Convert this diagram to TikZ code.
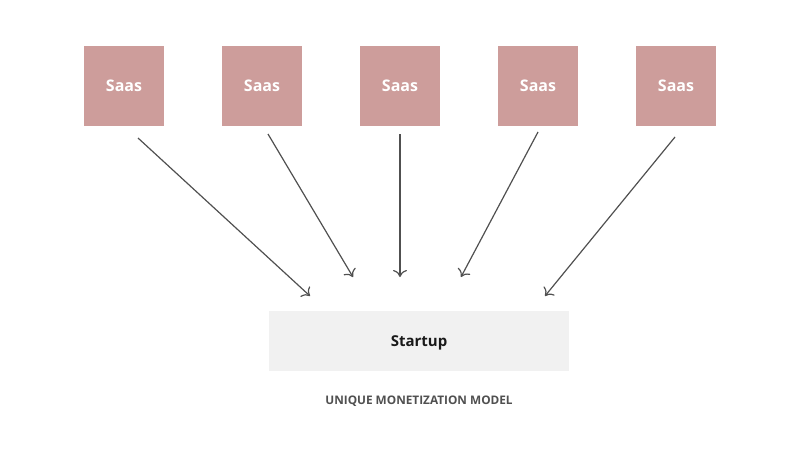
\documentclass[tikz,border=0pt]{standalone}
\usepackage{fontspec}
\setmainfont{Open Sans}
\usepackage{tikz}
\usetikzlibrary{positioning,arrows.meta}
\definecolor{saasrose}{RGB}{205,157,155}
\definecolor{startgray}{RGB}{241,241,241}
\definecolor{linegray}{RGB}{80,80,80}
\tikzset{
  saasbox/.style={rectangle, fill=saasrose, minimum width=80pt, minimum height=80pt, inner sep=0pt, outer sep=0pt, text height=10pt, text depth=0pt, text=white, font=\bfseries\fontsize{16}{19}\selectfont},
  startbox/.style={rectangle, fill=startgray, minimum width=300pt, minimum height=60pt, inner sep=0pt, outer sep=0pt, text height=10.7pt, text depth=0pt, text=black!90, font=\bfseries\fontsize{15}{18}\selectfont},
  caption/.style={text=linegray, font=\bfseries\fontsize{11.8}{14}\selectfont},
  feed/.style={-{To[length=7pt,width=14pt]}, linegray, line width=1.2pt},
}
\begin{document}
\begin{tikzpicture}[x=1pt, y=-1pt, node distance=58pt]
  \useasboundingbox (0,0) rectangle (800,450);
  \node[saasbox] (saas1) at (124,86) {Saas};
  \node[saasbox] (saas2) [right=of saas1] {Saas};
  \node[saasbox] (saas3) [right=of saas2] {Saas};
  \node[saasbox] (saas4) [right=of saas3] {Saas};
  \node[saasbox] (saas5) [right=of saas4] {Saas};
  \node[startbox] (startup) at (419,341) {Startup};
  \node[caption] (model) at (419,401.5) {UNIQUE MONETIZATION MODEL};

  % arrow ends
  \coordinate (from1) at (138,138);
  \coordinate (from2) at (268,134);
  \coordinate (from3) at (400,134);
  \coordinate (from4) at (538,132);
  \coordinate (from5) at (675,137);
  \coordinate (to1) at (310,296);
  \coordinate (to2) at (353,277);
  \coordinate (to3) at (400,277);
  \coordinate (to4) at (461,277);
  \coordinate (to5) at (545,296);

  \foreach \i in {1,...,5}
    \draw[feed] (from\i) -- (to\i);
\end{tikzpicture}
\end{document}
